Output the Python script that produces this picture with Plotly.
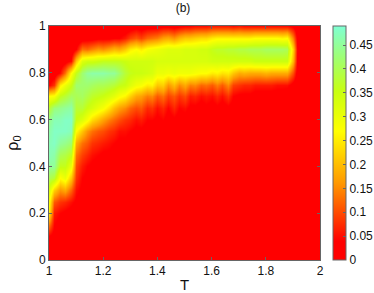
import plotly.graph_objects as go

T = [round(1 + 0.02 * i, 2) for i in range(51)]
rho0 = [round(0.05 * i, 2) for i in range(21)]
cbar_ticks = [0, 0.05, 0.1, 0.15, 0.2, 0.25, 0.3, 0.35, 0.4, 0.45]

# one row per T value, rho0 going 0 -> 1 (in hundredths)
z_by_T = [
    [0, 0, 3, 13, 25, 28, 33, 40, 45, 47, 47, 46, 44, 38, 27, 4, 0, 0, 0, 0, 0],
    [0, 0, 2, 4, 6, 11, 22, 38, 45, 46, 48, 48, 47, 43, 28, 8, 1, 0, 0, 0, 0],
    [0, 0, 1, 2, 4, 8, 16, 27, 36, 40, 45, 48, 47, 44, 36, 25, 5, 0, 0, 0, 0],
    [0, 0, 1, 1, 3, 7, 18, 30, 36, 39, 44, 48, 48, 45, 38, 30, 13, 2, 0, 0, 0],
    [0, 0, 0, 1, 2, 5, 12, 21, 30, 36, 42, 47, 48, 46, 41, 35, 27, 5, 0, 0, 0],
    [0, 0, 0, 0, 1, 3, 5, 8, 10, 13, 18, 27, 35, 38, 40, 42, 36, 21, 4, 0, 0],
    [0, 0, 0, 0, 1, 2, 3, 4, 6, 9, 13, 21, 32, 38, 41, 42, 42, 32, 13, 1, 0],
    [0, 0, 0, 0, 0, 1, 2, 3, 4, 7, 11, 16, 28, 35, 39, 42, 45, 34, 12, 2, 0],
    [0, 0, 0, 0, 0, 1, 2, 2, 3, 5, 8, 13, 23, 33, 37, 41, 46, 34, 14, 2, 0],
    [0, 0, 0, 0, 0, 0, 1, 2, 2, 4, 7, 11, 20, 30, 36, 40, 46, 35, 16, 3, 0],
    [0, 0, 0, 0, 0, 0, 1, 1, 2, 3, 6, 10, 17, 28, 35, 40, 46, 36, 15, 3, 0],
    [0, 0, 0, 0, 0, 0, 0, 1, 2, 3, 5, 8, 14, 24, 33, 39, 45, 36, 17, 3, 0],
    [0, 0, 0, 0, 0, 0, 0, 1, 1, 2, 4, 7, 12, 20, 31, 38, 45, 36, 19, 4, 0],
    [0, 0, 0, 0, 0, 0, 0, 0, 1, 2, 3, 5, 10, 17, 28, 36, 42, 36, 18, 4, 0],
    [0, 0, 0, 0, 0, 0, 0, 0, 1, 2, 3, 5, 8, 15, 26, 35, 38, 35, 21, 6, 0],
    [0, 0, 0, 0, 0, 0, 0, 0, 0, 1, 2, 4, 7, 12, 22, 32, 36, 34, 25, 9, 1],
    [0, 0, 0, 0, 0, 0, 0, 0, 0, 1, 2, 3, 5, 10, 18, 29, 35, 34, 27, 11, 2],
    [0, 0, 0, 0, 0, 0, 0, 0, 0, 1, 2, 3, 6, 11, 17, 28, 35, 34, 25, 9, 1],
    [0, 0, 0, 0, 0, 0, 0, 0, 0, 0, 1, 2, 4, 7, 14, 25, 34, 34, 28, 12, 2],
    [0, 0, 0, 0, 0, 0, 0, 0, 0, 0, 1, 2, 4, 8, 15, 26, 33, 34, 29, 13, 2],
    [0, 0, 0, 0, 0, 0, 0, 0, 0, 0, 1, 2, 3, 5, 11, 21, 30, 33, 30, 14, 2],
    [0, 0, 0, 0, 0, 0, 0, 0, 0, 0, 1, 2, 4, 7, 13, 22, 30, 33, 31, 17, 3],
    [0, 0, 0, 0, 0, 0, 0, 0, 0, 0, 0, 1, 2, 4, 9, 16, 29, 33, 32, 18, 3],
    [0, 0, 0, 0, 0, 0, 0, 0, 0, 0, 1, 2, 3, 7, 11, 20, 30, 33, 32, 16, 2],
    [0, 0, 0, 0, 0, 0, 0, 0, 0, 0, 0, 1, 2, 4, 8, 15, 29, 33, 32, 19, 3],
    [0, 0, 0, 0, 0, 0, 0, 0, 0, 0, 0, 1, 2, 5, 10, 18, 29, 33, 33, 21, 4],
    [0, 0, 0, 0, 0, 0, 0, 0, 0, 0, 0, 0, 1, 3, 6, 14, 29, 33, 33, 21, 4],
    [0, 0, 0, 0, 0, 0, 0, 0, 0, 0, 0, 0, 1, 3, 7, 15, 28, 33, 33, 22, 5],
    [0, 0, 0, 0, 0, 0, 0, 0, 0, 0, 0, 0, 1, 2, 5, 12, 27, 33, 34, 23, 5],
    [0, 0, 0, 0, 0, 0, 0, 0, 0, 0, 0, 0, 1, 3, 6, 13, 27, 33, 34, 23, 5],
    [0, 0, 0, 0, 0, 0, 0, 0, 0, 0, 0, 0, 0, 2, 5, 11, 25, 34, 36, 25, 6],
    [0, 0, 0, 0, 0, 0, 0, 0, 0, 0, 0, 0, 1, 3, 7, 14, 26, 34, 37, 26, 6],
    [0, 0, 0, 0, 0, 0, 0, 0, 0, 0, 0, 0, 0, 2, 5, 11, 24, 34, 37, 26, 6],
    [0, 0, 0, 0, 0, 0, 0, 0, 0, 0, 0, 0, 1, 3, 8, 15, 25, 34, 38, 26, 6],
    [0, 0, 0, 0, 0, 0, 0, 0, 0, 0, 0, 0, 0, 2, 4, 9, 21, 34, 38, 26, 5],
    [0, 0, 0, 0, 0, 0, 0, 0, 0, 0, 0, 0, 0, 1, 3, 8, 18, 34, 39, 26, 6],
    [0, 0, 0, 0, 0, 0, 0, 0, 0, 0, 0, 0, 0, 1, 3, 7, 19, 34, 39, 26, 5],
    [0, 0, 0, 0, 0, 0, 0, 0, 0, 0, 0, 0, 0, 1, 3, 7, 18, 34, 40, 26, 5],
    [0, 0, 0, 0, 0, 0, 0, 0, 0, 0, 0, 0, 0, 1, 2, 6, 18, 35, 40, 27, 5],
    [0, 0, 0, 0, 0, 0, 0, 0, 0, 0, 0, 0, 0, 0, 2, 6, 18, 35, 40, 27, 5],
    [0, 0, 0, 0, 0, 0, 0, 0, 0, 0, 0, 0, 0, 0, 2, 6, 19, 35, 41, 27, 5],
    [0, 0, 0, 0, 0, 0, 0, 0, 0, 0, 0, 0, 0, 0, 2, 6, 18, 35, 41, 27, 5],
    [0, 0, 0, 0, 0, 0, 0, 0, 0, 0, 0, 0, 0, 0, 2, 5, 18, 35, 41, 27, 5],
    [0, 0, 0, 0, 0, 0, 0, 0, 0, 0, 0, 0, 0, 0, 2, 5, 18, 35, 41, 26, 5],
    [0, 0, 0, 0, 0, 0, 0, 0, 0, 0, 0, 0, 0, 0, 1, 5, 18, 35, 40, 27, 5],
    [0, 0, 0, 0, 0, 0, 0, 0, 0, 0, 0, 0, 0, 0, 0, 2, 10, 19, 22, 14, 3],
    [0] * 21,
    [0] * 21,
    [0] * 21,
    [0] * 21,
    [0] * 21,
]

# heatmap wants rows along y, so flip the table and scale it
z = [[z_by_T[j][i] / 100 for j in range(len(T))] for i in range(len(rho0))]

colors = [
    [0.0, "#ff0000"],
    [0.08, "#ff0000"],
    [0.33, "#ff9900"],
    [0.55, "#ffff00"],
    [0.72, "#c8ff10"],
    [0.86, "#a0ff70"],
    [1.0, "#7fffd4"],
]

axis_color = "#666666"
font = dict(family="Liberation Sans, Arial, sans-serif", size=12, color="#111111")

fig = go.Figure(go.Heatmap(
    x=T,
    y=rho0,
    z=z,
    zmin=0,
    zmax=0.49,
    zsmooth="best",
    colorscale=colors,
    colorbar=dict(
        xref="container",
        x=333 / 374,
        xanchor="left",
        xpad=0,
        ypad=0,
        y=0,
        yanchor="bottom",
        len=1,
        thickness=13,
        tickvals=cbar_ticks,
        ticktext=["0", "0.05", "0.1", "0.15", "0.2", "0.25", "0.3", "0.35", "0.4", "0.45"],
        ticks="inside",
        ticklen=3,
        tickcolor=axis_color,
        outlinecolor=axis_color,
        outlinewidth=1,
        tickfont=font,
    ),
))

fig.update_layout(
    width=374,
    height=293,
    autosize=False,
    margin=dict(l=49, r=54, t=26, b=33, autoexpand=False),
    paper_bgcolor="white",
    plot_bgcolor="white",
    font=font,
    title=dict(text="(b)", x=183 / 374, xanchor="center", y=0.972, yanchor="middle", font=dict(size=12)),
)
fig.update_xaxes(
    title=dict(text="T", font=dict(size=15), standoff=2),
    automargin=False,
    range=[1, 2],
    tickvals=[1, 1.2, 1.4, 1.6, 1.8, 2],
    ticktext=["1", "1.2", "1.4", "1.6", "1.8", "2"],
    ticks="inside",
    ticklen=3,
    tickcolor=axis_color,
    showline=True,
    linecolor=axis_color,
    mirror="ticks",
    showgrid=False,
    zeroline=False,
)
fig.update_yaxes(
    title=dict(text="ρ<sub>0</sub>", font=dict(size=16), standoff=6),
    automargin=False,
    range=[0, 1],
    tickvals=[0, 0.2, 0.4, 0.6, 0.8, 1],
    ticktext=["0", "0.2", "0.4", "0.6", "0.8", "1"],
    ticks="inside",
    ticklen=3,
    tickcolor=axis_color,
    showline=True,
    linecolor=axis_color,
    mirror="ticks",
    showgrid=False,
    zeroline=False,
)

# page body has an 8px margin by default, drop it so the figure fills the window
fig.write_html("out.html", config=dict(displayModeBar=False),
               post_script="document.body.style.margin='0';")
